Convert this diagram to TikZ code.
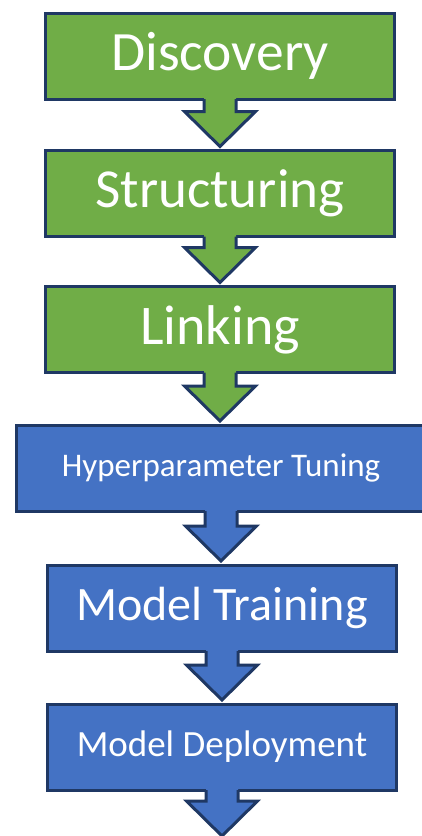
\documentclass[tikz,border=0pt]{standalone}
\usepackage{fontspec}
\setmainfont{Carlito}
\usetikzlibrary{calc}
\definecolor{stagegreen}{RGB}{112,173,71}
\definecolor{stageblue}{RGB}{68,114,196}
\definecolor{stageline}{RGB}{31,56,100}

\begin{document}
\begin{tikzpicture}[x=1pt, y=-1pt,
    stage/.style={draw=stageline, line width=3pt, text=white, minimum width=349pt,
        minimum height=86pt, inner sep=0pt, align=center}]
    \useasboundingbox (0,0) rectangle (421,836);
    % Data stages
    \node[stage, fill=stagegreen, font=\fontsize{55.5}{60}\selectfont] (disc) at (220,56) {Discovery};
    \node[stage, fill=stagegreen, font=\fontsize{55}{60}\selectfont] (struc) at (220,193.5) {Structuring};
    \node[stage, fill=stagegreen, font=\fontsize{56}{60}\selectfont] (link) at (220,329.5) {Linking};
    % Model stages
    \node[stage, fill=stageblue, minimum width=409pt, font=\fontsize{33}{36}\selectfont] (tune) at (221,468) {Hyperparameter Tuning};
    \node[stage, fill=stageblue, font=\fontsize{48}{52}\selectfont] (train) at (222,608) {Model Training};
    \node[stage, fill=stageblue, font=\fontsize{37}{40}\selectfont] (depl) at (222,747) {Model Deployment};
    \coordinate (out) at (222,838.5);
    % Block arrows
    \foreach \a/\b/\c in {disc/struc/stagegreen, struc/link/stagegreen, link/tune/stagegreen,
        tune/train/stageblue, train/depl/stageblue, depl/out/stageblue}{
        \coordinate (s) at ($(\a.south)+(0,-1.5)$);
        \coordinate (t) at ($(s |- \b.north)+(0,-2.5)$);
        \coordinate (h) at ($(t)+(0,-35)$);
        \fill[\c] ($(s)+(-16,-1.7)$) -- ($(h)+(-16,0)$) -- ($(h)+(-35.5,0)$) -- (t)
            -- ($(h)+(35.5,0)$) -- ($(h)+(16,0)$) -- ($(s)+(16,-1.7)$) -- cycle;
        \draw[stageline, line width=3pt] ($(s)+(-16,0)$) -- ($(h)+(-16,0)$) -- ($(h)+(-35.5,0)$)
            -- (t) -- ($(h)+(35.5,0)$) -- ($(h)+(16,0)$) -- ($(s)+(16,0)$);
    }
\end{tikzpicture}
\end{document}
